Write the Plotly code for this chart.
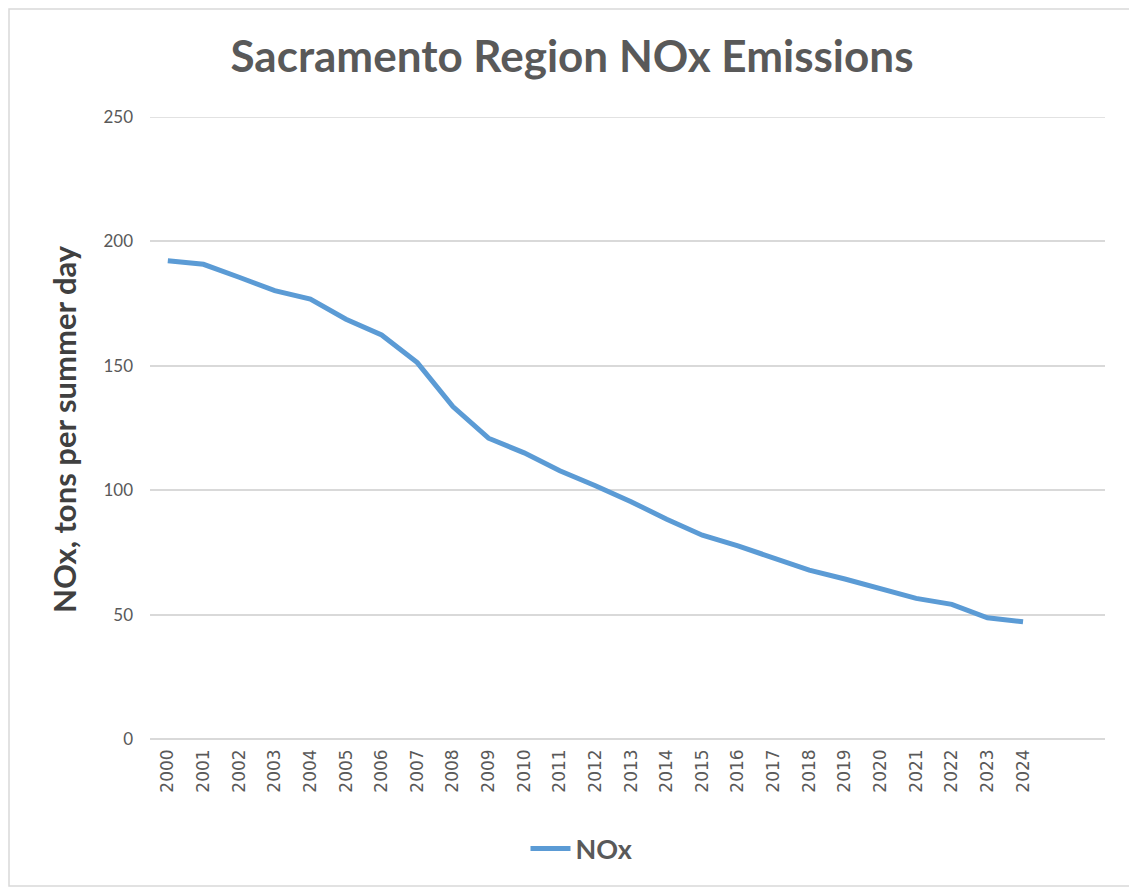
import plotly.graph_objects as go

years = [str(y) for y in range(2000, 2025)]
nox = [192.2, 190.8, 185.6, 180.2, 176.8, 168.7, 162.4, 151.3, 133.6, 120.9,
       115.0, 107.8, 101.8, 95.4, 88.3, 81.9, 77.6, 73.0, 67.9, 64.3,
       60.5, 56.5, 54.1, 48.7, 47.1]
y_ticks = [0, 50, 100, 150, 200, 250]

xpos = list(range(len(years)))

OFF = 8  # page body margin
W, H = 1137 - OFF, 888 - OFF
# screen coordinates of plot area
SL, SR, ST, SB = 150, 1105, 117, 739
L, T = SL - OFF, ST - OFF
R = W - (SR - OFF)
B = H - (SB - OFF)
pw, ph = W - L - R, H - T - B

def px(x):
    return (x - OFF - L) / pw

def py(y):
    return (H - B - (y - OFF)) / ph

fig = go.Figure()
fig.add_trace(go.Scatter(
    x=xpos, y=nox, mode="lines", name="<b>NOx</b>",
    line=dict(color="#5B9BD5", width=5),
))

fig.update_layout(
    width=W, height=H,
    margin=dict(l=L, r=R, t=T, b=B),
    paper_bgcolor="white", plot_bgcolor="white",
    title=dict(text="<b>Sacramento Region NOx Emissions</b>", x=(572 - OFF) / W, xanchor="center",
               y=1 - (57 - OFF) / H, yanchor="middle",
               font=dict(family="Lato", size=44, color="#595959")),
    showlegend=True,
    legend=dict(orientation="h", x=px(582), xanchor="center", y=py(849), yanchor="middle",
                font=dict(family="Lato", size=27, color="#595959"),
                itemwidth=40),
    xaxis=dict(range=[-0.5, 26.3], tickmode="array", tickvals=xpos, ticktext=years,
               tickangle=-90, showgrid=False, zeroline=False, showline=False,
               ticks="", ticklabelstandoff=6,
               tickfont=dict(family="DejaVu Sans", size=17, color="#595959"),
               fixedrange=True),
    yaxis=dict(range=[0, 250], tickmode="array", tickvals=y_ticks,
               showgrid=True, gridcolor="#D9D9D9", gridwidth=1.5,
               zeroline=True, zerolinecolor="#D9D9D9", zerolinewidth=1.5,
               showline=False, ticks="",
               ticklabelstandoff=16,
               tickfont=dict(family="Lato", size=17, color="#595959"),
               fixedrange=True),
)

fig.add_annotation(text="<b>NOx, tons per summer day</b>", textangle=-90,
                   xref="paper", yref="paper", x=px(64), y=py(429),
                   xanchor="center", yanchor="middle", showarrow=False,
                   font=dict(family="Lato", size=31, color="#404040"))

# top gridline at 250
fig.add_shape(type="line", xref="paper", yref="y", x0=0, x1=1, y0=y_ticks[-1], y1=y_ticks[-1],
              line=dict(color="#D9D9D9", width=1.5), layer="below")

# chart border
fig.add_shape(type="rect", xref="paper", yref="paper",
              x0=px(9), x1=px(1133), y0=py(886), y1=py(9),
              line=dict(color="#D9D9D9", width=1.5), fillcolor="rgba(0,0,0,0)", layer="below")

fig.write_html("out.html")
